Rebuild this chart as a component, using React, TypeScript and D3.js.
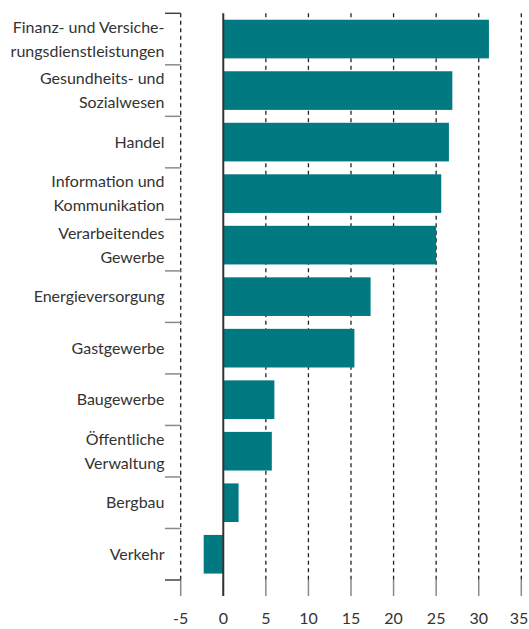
import { useEffect, useRef } from "react"
import * as d3 from "d3"

const categories = [
  ["Finanz- und Versiche-", "rungsdienstleistungen"],
  ["Gesundheits- und", "Sozialwesen"],
  ["Handel"],
  ["Information und", "Kommunikation"],
  ["Verarbeitendes", "Gewerbe"],
  ["Energieversorgung"],
  ["Gastgewerbe"],
  ["Baugewerbe"],
  ["Öffentliche", "Verwaltung"],
  ["Bergbau"],
  ["Verkehr"],
]
const values = [31.2, 26.9, 26.5, 25.6, 25.0, 17.3, 15.4, 6.0, 5.7, 1.8, -2.3]
const ticks = [-5, 0, 5, 10, 15, 20, 25, 30, 35]

const width = 529
const height = 629

export default function App() {
  const svgRef = useRef<SVGSVGElement>(null)

  useEffect(() => {
    const svg = d3.select(svgRef.current)
    svg.selectAll("*").remove()

    const names = categories.map((c) => c.join(" "))
    const top = 13.3
    const bottom = 580

    const x = d3.scaleLinear().domain([-5, 35]).range([180.7, 521.3])
    const y = d3.scaleBand().domain(names).range([top, bottom]).paddingInner(0.25).paddingOuter(0.125)
    const step = y.step()

    // dashed grid
    svg
      .append("g")
      .selectAll("line")
      .data(ticks.filter((t) => t !== 0))
      .enter()
      .append("line")
      .attr("x1", (d) => x(d))
      .attr("x2", (d) => x(d))
      .attr("y1", top)
      .attr("y2", bottom)
      .attr("stroke", "#222")
      .attr("stroke-width", 1.3)
      .attr("stroke-dasharray", "4,3.5")

    // bottom tick marks
    svg
      .append("g")
      .selectAll("line")
      .data(ticks)
      .enter()
      .append("line")
      .attr("x1", (d) => x(d))
      .attr("x2", (d) => x(d))
      .attr("y1", bottom)
      .attr("y2", bottom + 16)
      .attr("stroke", "#8a8a8a")
      .attr("stroke-width", 1.5)

    // category separators on the left
    const bounds = d3.range(categories.length + 1).map((i) => top + i * step)
    svg
      .append("g")
      .selectAll("line")
      .data(bounds)
      .enter()
      .append("line")
      .attr("x1", 165)
      .attr("x2", x(-5))
      .attr("y1", (d) => d)
      .attr("y2", (d) => d)
      .attr("stroke", (d, i) => (i === 0 || i === bounds.length - 1 ? "#444" : "#8a8a8a"))
      .attr("stroke-width", 1.5)

    // bars
    svg
      .append("g")
      .selectAll("rect")
      .data(values)
      .enter()
      .append("rect")
      .attr("x", (d) => x(Math.min(0, d)))
      .attr("width", (d) => Math.abs(x(d) - x(0)))
      .attr("y", (d, i) => y(names[i]) as number)
      .attr("height", y.bandwidth())
      .attr("fill", "#007a80")

    // zero line
    svg
      .append("line")
      .attr("x1", x(0))
      .attr("x2", x(0))
      .attr("y1", top)
      .attr("y2", bottom + 16)
      .attr("stroke", "#333")
      .attr("stroke-width", 2)

    // category labels
    const labels = svg
      .append("g")
      .attr("font-family", "Lato, sans-serif")
      .attr("font-size", 16)
      .attr("fill", "#333")
      .attr("text-anchor", "end")
    categories.forEach((lines, i) => {
      const cy = (y(names[i]) as number) + y.bandwidth() / 2
      const t = labels.append("text")
      lines.forEach((line, j) => {
        const offset = (j - (lines.length - 1) / 2) * 24
        t.append("tspan")
          .attr("x", 164.5)
          .attr("y", cy + offset)
          .attr("dy", "0.35em")
          .text(line)
      })
    })

    // tick labels (last one kept inside the frame)
    svg
      .append("g")
      .attr("font-family", "Lato, sans-serif")
      .attr("font-size", 16)
      .attr("fill", "#333")
      .attr("text-anchor", "middle")
      .selectAll("text")
      .data(ticks)
      .enter()
      .append("text")
      .attr("x", (d) => Math.min(x(d), width - 10))
      .attr("y", 618)
      .attr("dy", "0.35em")
      .text((d) => String(d))
  }, [])

  return (
    <svg
      ref={svgRef}
      width={width}
      height={height}
      style={{ position: "absolute", left: 0, top: 0, background: "#fff" }}
    />
  )
}
